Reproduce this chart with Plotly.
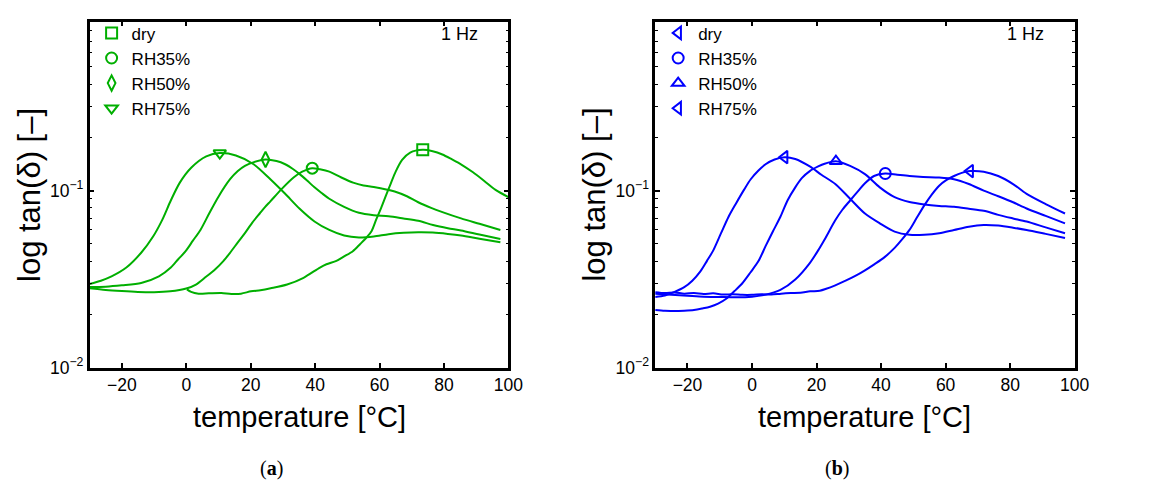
import plotly.graph_objects as go

# ---------------- data: panel (a), green ----------------
a_dry_T = [0.2, 1.5, 3.8, 7.0, 10.9, 14.0, 17.0, 20.1, 23.0, 26.2, 31.3, 36.4, 41.5, 43.5, 46.6, 49.0,
           51.7, 54.0, 56.0, 57.5, 59.0, 60.5, 62.0, 63.5, 65.0, 67.0, 69.5, 73.4, 76.5, 79.5, 82.5, 85.5,
           89.0, 92.5, 96.0, 100.0]
a_dry_v = [0.0277, 0.0268, 0.0262, 0.0263, 0.0264, 0.0261, 0.0262, 0.0270, 0.0274, 0.0281, 0.0295, 0.0322,
           0.0368, 0.0384, 0.0401, 0.0425, 0.0455, 0.0500, 0.0545, 0.0590, 0.0690, 0.0800, 0.0940, 0.1100,
           0.1280, 0.1490, 0.1640, 0.1700, 0.1670, 0.1600, 0.1500, 0.1400, 0.1270, 0.1135, 0.1010, 0.0920]

a_rh35_T = [-30, -25, -20, -15, -10, -5, 0, 3, 6, 9, 11.5, 13.6, 16, 18.2, 20.5, 22.8, 24.5, 26.1, 29.8,
            33.4, 36, 39.1, 41.5, 44.4, 48, 51.8, 55, 58.2, 64.7, 68.5, 72, 76, 79.3, 85.3, 91, 97.5]
a_rh35_v = [0.0281, 0.0275, 0.0271, 0.0268, 0.0267, 0.0270, 0.0280, 0.0295, 0.0325, 0.0360, 0.0400, 0.0446,
            0.0510, 0.0575, 0.0660, 0.0743, 0.0810, 0.0870, 0.1030, 0.1190, 0.1280, 0.1340, 0.1320, 0.1280,
            0.1190, 0.1110, 0.1070, 0.1050, 0.0990, 0.0930, 0.0860, 0.0800, 0.0759, 0.0697, 0.0650, 0.0600]

a_rh50_T = [-30, -25, -20, -14, -8.5, -4.8, -2.5, -0.2, 2, 4.4, 7.1, 9.9, 13.6, 16, 18.2, 21, 24.6, 28,
            30.7, 33, 35.2, 37.5, 39.8, 42, 44.4, 49, 53.6, 58.2, 62.8, 67.4, 72, 76.6, 81.2, 85.3, 91, 97.5]
a_rh50_v = [0.0286, 0.0287, 0.0292, 0.0301, 0.0328, 0.0368, 0.0410, 0.0455, 0.0520, 0.0600, 0.0743, 0.0919,
            0.1160, 0.1290, 0.1380, 0.1450, 0.1500, 0.1470, 0.1410, 0.1330, 0.1240, 0.1140, 0.1044, 0.0970,
            0.0900, 0.0810, 0.0750, 0.0727, 0.0717, 0.0697, 0.0676, 0.0640, 0.0614, 0.0596, 0.0565, 0.0533]

a_rh75_T = [-30, -26.5, -23.2, -18.6, -14, -10.3, -7.5, -4.8, -2.0, 1.6, 6.2, 10.4, 15.4, 20.9, 26.1, 30.7,
            35.2, 39.8, 44.4, 49, 53.6, 58.2, 62.8, 67.5, 72, 76.5, 81.2, 85.3, 91, 97.5]
a_rh75_v = [0.0297, 0.0310, 0.0328, 0.0368, 0.0446, 0.0551, 0.0682, 0.0880, 0.1110, 0.1350, 0.1560, 0.1630,
            0.1580, 0.1410, 0.1160, 0.0960, 0.0790, 0.0670, 0.0600, 0.0558, 0.0544, 0.0551, 0.0568, 0.0578,
            0.0582, 0.0580, 0.0570, 0.0558, 0.0535, 0.0511]

a_peak_T = [73.4, 39.1, 24.6, 10.4]
a_peak_v = [0.170, 0.134, 0.150, 0.163]

# ---------------- data: panel (b), blue ----------------
b_dry_T = [-30, -27, -24, -21, -18.5, -16, -14, -12, -9.6, -7.3, -5, -2.5, -0.4, 2, 4.2, 7, 10.1, 13.4,
           17.9, 21.5, 25.8, 30.4, 35, 39.6, 44.2, 48.8, 53.4, 58, 62.6, 67.2, 71.8, 76.3, 80.9, 85.1, 91, 97]
b_dry_v = [0.0251, 0.0256, 0.0268, 0.0285, 0.0310, 0.0350, 0.0400, 0.0460, 0.0575, 0.0710, 0.0844, 0.1010,
           0.1160, 0.1300, 0.1410, 0.1500, 0.1545, 0.1510, 0.1370, 0.1230, 0.1090, 0.0900, 0.0743, 0.0654,
           0.0587, 0.0563, 0.0563, 0.0575, 0.0600, 0.0626, 0.0640, 0.0635, 0.0618, 0.0600, 0.0570, 0.0540]

b_rh35_T = [-30, -25, -20, -15, -10, -5, 0, 4, 8.8, 13.4, 17.9, 20.5, 22.5, 25.8, 28, 30.4, 33, 35, 37.8,
            41.3, 45, 48.8, 53, 58, 62.6, 67.2, 71.8, 76.3, 80.9, 85.1, 91, 97]
b_rh35_v = [0.0262, 0.0258, 0.0255, 0.0252, 0.0251, 0.0250, 0.0252, 0.0258, 0.0275, 0.0315, 0.0390, 0.0460,
            0.0530, 0.0680, 0.0780, 0.0880, 0.1000, 0.1100, 0.1210, 0.1250, 0.1230, 0.1210, 0.1195, 0.1186,
            0.1160, 0.1090, 0.1000, 0.0930, 0.0860, 0.0793, 0.0720, 0.0654]

b_rh50_T = [-30, -27, -24, -21, -18, -15.5, -13, -10.5, -8, -5.5, -3, -0.5, 2, 4.2, 6.5, 8.8, 11, 13.4,
            15.5, 17.9, 20.5, 22.5, 26, 30.4, 35, 39.6, 44.2, 48.8, 53.4, 58, 62.6, 67.2, 71.8, 76.3, 80.9,
            85.1, 91, 97]
b_rh50_v = [0.0212, 0.0210, 0.0209, 0.0210, 0.0212, 0.0216, 0.0221, 0.0230, 0.0245, 0.0270, 0.0300, 0.0345,
            0.0400, 0.0486, 0.0590, 0.0712, 0.0880, 0.1044, 0.1180, 0.1290, 0.1370, 0.1420, 0.1466, 0.1380,
            0.1240, 0.1044, 0.0919, 0.0862, 0.0836, 0.0820, 0.0810, 0.0790, 0.0769, 0.0730, 0.0697, 0.0669,
            0.0620, 0.0575]

b_rh75_T = [-30, -27, -24, -21, -18, -15, -12, -9, -6, -3, 0, 3, 6, 9, 12, 15, 18, 21, 23, 25.8, 29, 32,
            35, 38, 41, 44.2, 46.5, 48.8, 51, 53.4, 55.7, 58, 60.3, 62.6, 65, 67.6, 71.8, 76.3, 80.9, 85.1,
            91, 97]
b_rh75_v = [0.0267, 0.0264, 0.0266, 0.0262, 0.0264, 0.0261, 0.0263, 0.0259, 0.0260, 0.0258, 0.0258, 0.0260,
            0.0259, 0.0262, 0.0264, 0.0265, 0.0270, 0.0272, 0.0279, 0.0292, 0.0310, 0.0330, 0.0355, 0.0385,
            0.0420, 0.0475, 0.0530, 0.0600, 0.0700, 0.0826, 0.0950, 0.1066, 0.1150, 0.1210, 0.1260, 0.1290,
            0.1280, 0.1210, 0.1090, 0.0959, 0.0840, 0.0743]

b_peak_T = [10.1, 41.3, 26.0, 67.6]
b_peak_v = [0.1545, 0.125, 0.1466, 0.129]

series_names = ["dry", "RH35%", "RH50%", "RH75%"]
x_ticks = [-20, 0, 20, 40, 60, 80, 100]
y_major = [0.01, 0.1]
y_major_text = ["10<sup>−2</sup>", "10<sup>−1</sup>"]
x_title = "temperature [°C]"
y_title = "log tan(δ) [–]"
captions = ["(<b>a</b>)", "(<b>b</b>)"]
freq_label = "1 Hz"

# ---------------- styling ----------------
W, H = 1158, 484
GREEN = "rgb(0,175,0)"
BLUE = "rgb(0,0,255)"
FONT = "Liberation Sans, Arial, sans-serif"

panels = [
    dict(xa="x", ya="y", legend="legend", color=GREEN,
         curves=[(a_dry_T, a_dry_v), (a_rh35_T, a_rh35_v), (a_rh50_T, a_rh50_v), (a_rh75_T, a_rh75_v)],
         peaks=(a_peak_T, a_peak_v),
         symbols=["square-open", "circle-open", "diamond-tall-open", "triangle-down-open"]),
    dict(xa="x2", ya="y2", legend="legend2", color=BLUE,
         curves=[(b_dry_T, b_dry_v), (b_rh35_T, b_rh35_v), (b_rh50_T, b_rh50_v), (b_rh75_T, b_rh75_v)],
         peaks=(b_peak_T, b_peak_v),
         symbols=["triangle-left-open", "circle-open", "triangle-up-open", "triangle-left-open"]),
]

fig = go.Figure()
for p in panels:
    for (T, v) in p["curves"]:
        fig.add_trace(go.Scatter(x=T, y=v, mode="lines", xaxis=p["xa"], yaxis=p["ya"],
                                 line=dict(color=p["color"], width=2, shape="spline", smoothing=0.8),
                                 showlegend=False, hoverinfo="skip"))
    pT, pv = p["peaks"]
    for i, name in enumerate(series_names):
        fig.add_trace(go.Scatter(x=[pT[i]], y=[pv[i]], mode="markers", name=name,
                                 xaxis=p["xa"], yaxis=p["ya"], legend=p["legend"],
                                 marker=dict(symbol=p["symbols"][i], size=11, color=p["color"],
                                             line=dict(width=2, color=p["color"]))))

def px_x(v):
    return v / W

def px_y(v):
    return 1 - v / H

minor_vals = [m * 10.0 ** e for e in (-2, -1) for m in range(2, 10)]

panel_left = [82.7, 655.7]
panel_right = [507.0, 1080.7]
xdomains = [[panel_left[k] / W, panel_right[k] / W] for k in range(2)]
ydomain = [1 - 367.3 / H, 1 - 14 / H]

axis_common = dict(showline=True, linecolor="black", linewidth=2.5, mirror="ticks", ticks="inside",
                   ticklen=5, tickwidth=1.5, tickcolor="black", showgrid=False, zeroline=False,
                   tickfont=dict(family=FONT, size=17.5, color="black"))

layout = dict(width=W, height=H, autosize=False, margin=dict(l=0, r=0, t=0, b=0),
              paper_bgcolor="white", plot_bgcolor="white", font=dict(family=FONT, color="black"))

for k, suffix in enumerate(["", "2"]):
    layout["xaxis" + suffix] = dict(axis_common, domain=xdomains[k], range=[-30, 100], tickvals=x_ticks,
                                    anchor="y" + suffix)
    layout["yaxis" + suffix] = dict(axis_common, domain=ydomain, type="log",
                                    range=[-2, -0.0458], tickvals=y_major, ticktext=y_major_text,
                                    anchor="x" + suffix,
                                    minor=dict(tickvals=minor_vals, ticks="inside", ticklen=3,
                                               tickwidth=1, tickcolor="black", showgrid=False))

legend_common = dict(font=dict(family=FONT, size=17, color="black"), bgcolor="rgba(0,0,0,0)",
                     borderwidth=0, xanchor="left", yanchor="top", tracegroupgap=0,
                     itemclick=False, itemdoubleclick=False)
layout["legend"] = dict(legend_common, x=px_x(panel_left[0] + 2), y=px_y(7.5))
layout["legend2"] = dict(legend_common, x=px_x(panel_left[1] + 3), y=px_y(7.5))

fig.update_layout(**layout)

annots = []
for k in range(2):
    cx = (panel_left[k] + panel_right[k]) / 2
    annots.append(dict(text=y_title, x=px_x(panel_left[k] - 61), y=px_y(190.5), xref="paper", yref="paper",
                       textangle=-90, showarrow=False, xanchor="center", yanchor="middle",
                       font=dict(family=FONT, size=31, color="black")))
    annots.append(dict(text=x_title, x=px_x(cx), y=px_y(418), xref="paper", yref="paper",
                       showarrow=False, xanchor="center", yanchor="middle",
                       font=dict(family=FONT, size=29, color="black")))
    annots.append(dict(text=freq_label, x=px_x(panel_right[k] - 29), y=px_y(27), xref="paper", yref="paper",
                       showarrow=False, xanchor="right", yanchor="middle",
                       font=dict(family=FONT, size=18, color="black")))
    annots.append(dict(text=captions[k], x=px_x(cx - 28), y=px_y(470), xref="paper", yref="paper",
                       showarrow=False, xanchor="center", yanchor="middle",
                       font=dict(family="Liberation Serif, serif", size=20, color="black")))
fig.update_layout(annotations=annots)

fig.write_html("out.html")
